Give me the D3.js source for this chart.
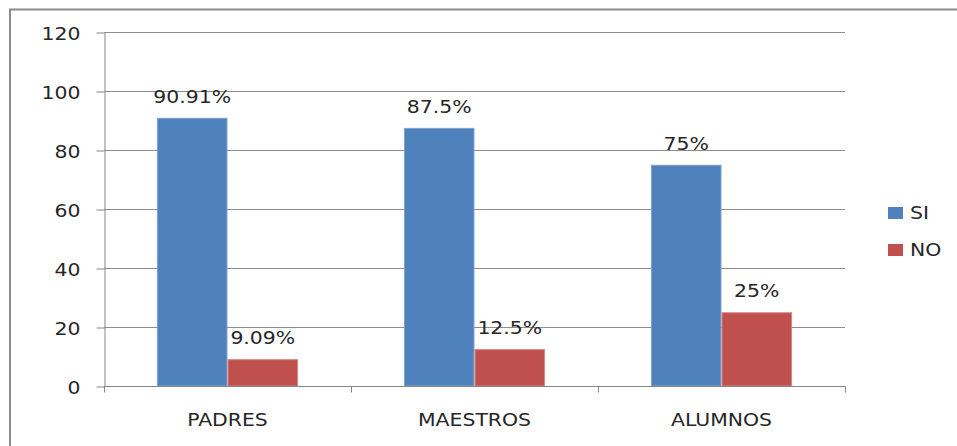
<!DOCTYPE html>
<html>
<head>
<meta charset="utf-8">
<script src="https://cdn.jsdelivr.net/npm/d3@7"></script>
<style>
  html, body { margin: 0; padding: 0; background: #fff; }
  svg { display: block; }
  text { font-family: "DejaVu Sans", sans-serif; fill: #262626; }
</style>
</head>
<body>
<svg id="chart" width="957" height="446"></svg>
<script>
// Survey answers by group (percent)
const categories = ["PADRES", "MAESTROS", "ALUMNOS"];
const seriesNames = ["SI", "NO"];
const siValues = [90.91, 87.5, 75];
const noValues = [9.09, 12.5, 25];
const siLabels = ["90.91%", "87.5%", "75%"];
const noLabels = ["9.09%", "12.5%", "25%"];
const yTicks = [0, 20, 40, 60, 80, 100, 120];
const colors = ["#4F81BD", "#C0504D"];
const edgeColors = ["#7FA3D0", "#D48784"];

const W = 957, H = 446;
const FONT = 17, SX = 1.2;   // text is drawn slightly widened
const plot = { left: 104, right: 845, top: 32, bottom: 386 };

const svg = d3.select("#chart");

// outer frame (right/bottom edges fall outside the view)
svg.append("rect")
  .attr("x", 10).attr("y", 9.5)
  .attr("width", W + 20).attr("height", H + 20)
  .attr("fill", "none").attr("stroke", "#8a8a8a").attr("stroke-width", 2);

const x0 = d3.scaleBand().domain(categories).range([plot.left, plot.right]).padding(0);
const bw = x0.bandwidth() / 3.5;              // gap width 150%
const x1 = d3.scaleBand().domain(seriesNames)
  .range([x0.bandwidth() / 2 - bw, x0.bandwidth() / 2 + bw]).padding(0);
const y = d3.scaleLinear().domain([0, 120]).range([plot.bottom, plot.top]);

function stretchedText(g, tx, ty, str, anchor) {
  return g.append("text")
    .attr("transform", `translate(${tx},${ty}) scale(${SX},1)`)
    .attr("text-anchor", anchor || "middle")
    .attr("font-size", FONT)
    .text(str);
}

// horizontal gridlines
svg.append("g").selectAll("line")
  .data(yTicks.filter(t => t > 0))
  .join("line")
  .attr("x1", plot.left).attr("x2", plot.right)
  .attr("y1", d => Math.round(y(d)) + 0.5).attr("y2", d => Math.round(y(d)) + 0.5)
  .attr("stroke", "#8c8c8c").attr("stroke-width", 1);

// y axis
const yAxis = svg.append("g")
  .attr("transform", `translate(${plot.left + 0.5},0.5)`)
  .call(d3.axisLeft(y).tickValues(yTicks).tickSize(8).tickSizeOuter(0).tickFormat(d3.format("d")));
yAxis.select(".domain").attr("stroke", "#868686");
yAxis.selectAll(".tick line").attr("stroke", "#868686");
yAxis.selectAll(".tick text")
  .attr("x", 0).attr("dy", null).attr("y", 0)
  .attr("font-family", null).attr("font-size", FONT).attr("fill", null)
  .attr("text-anchor", "end")
  .attr("transform", `translate(-24,6.5) scale(${SX},1)`);

// bars
const groups = svg.append("g").selectAll("g")
  .data(categories.map((c, i) => ({ c, vals: [siValues[i], noValues[i]], labs: [siLabels[i], noLabels[i]] })))
  .join("g")
  .attr("transform", d => `translate(${x0(d.c)},0)`);

groups.each(function (d) {
  const g = d3.select(this);
  seriesNames.forEach((s, k) => {
    const v = d.vals[k];
    g.append("rect")
      .attr("x", x1(s) + 0.5).attr("y", y(v) + 0.5)
      .attr("width", x1.bandwidth() - 1).attr("height", y(0) - y(v) - 0.5)
      .attr("fill", colors[k]).attr("stroke", edgeColors[k]).attr("stroke-width", 1);
    stretchedText(g, x1(s) + x1.bandwidth() / 2, y(v) - 15, d.labs[k]);
  });
});

// x axis
const xAxis = svg.append("g")
  .attr("transform", `translate(0,${plot.bottom + 0.5})`);
xAxis.append("line")
  .attr("x1", plot.left).attr("x2", plot.right + 0.5)
  .attr("stroke", "#868686");
xAxis.selectAll("line.tick")
  .data(categories.map(c => x0(c)).concat([plot.right]))
  .join("line")
  .attr("class", "tick")
  .attr("x1", d => Math.round(d) + 0.5).attr("x2", d => Math.round(d) + 0.5)
  .attr("y1", 0).attr("y2", 6)
  .attr("stroke", "#868686");
categories.forEach(c => {
  stretchedText(svg, x0(c) + x0.bandwidth() / 2, 426, c);
});

// legend
const legend = svg.append("g");
seriesNames.forEach((s, k) => {
  const ly = 207 + k * 37;
  legend.append("rect")
    .attr("x", 888).attr("y", ly).attr("width", 15).attr("height", 12)
    .attr("fill", colors[k]);
  stretchedText(legend, 910, ly + 12, s, "start");
});
</script>
</body>
</html>
